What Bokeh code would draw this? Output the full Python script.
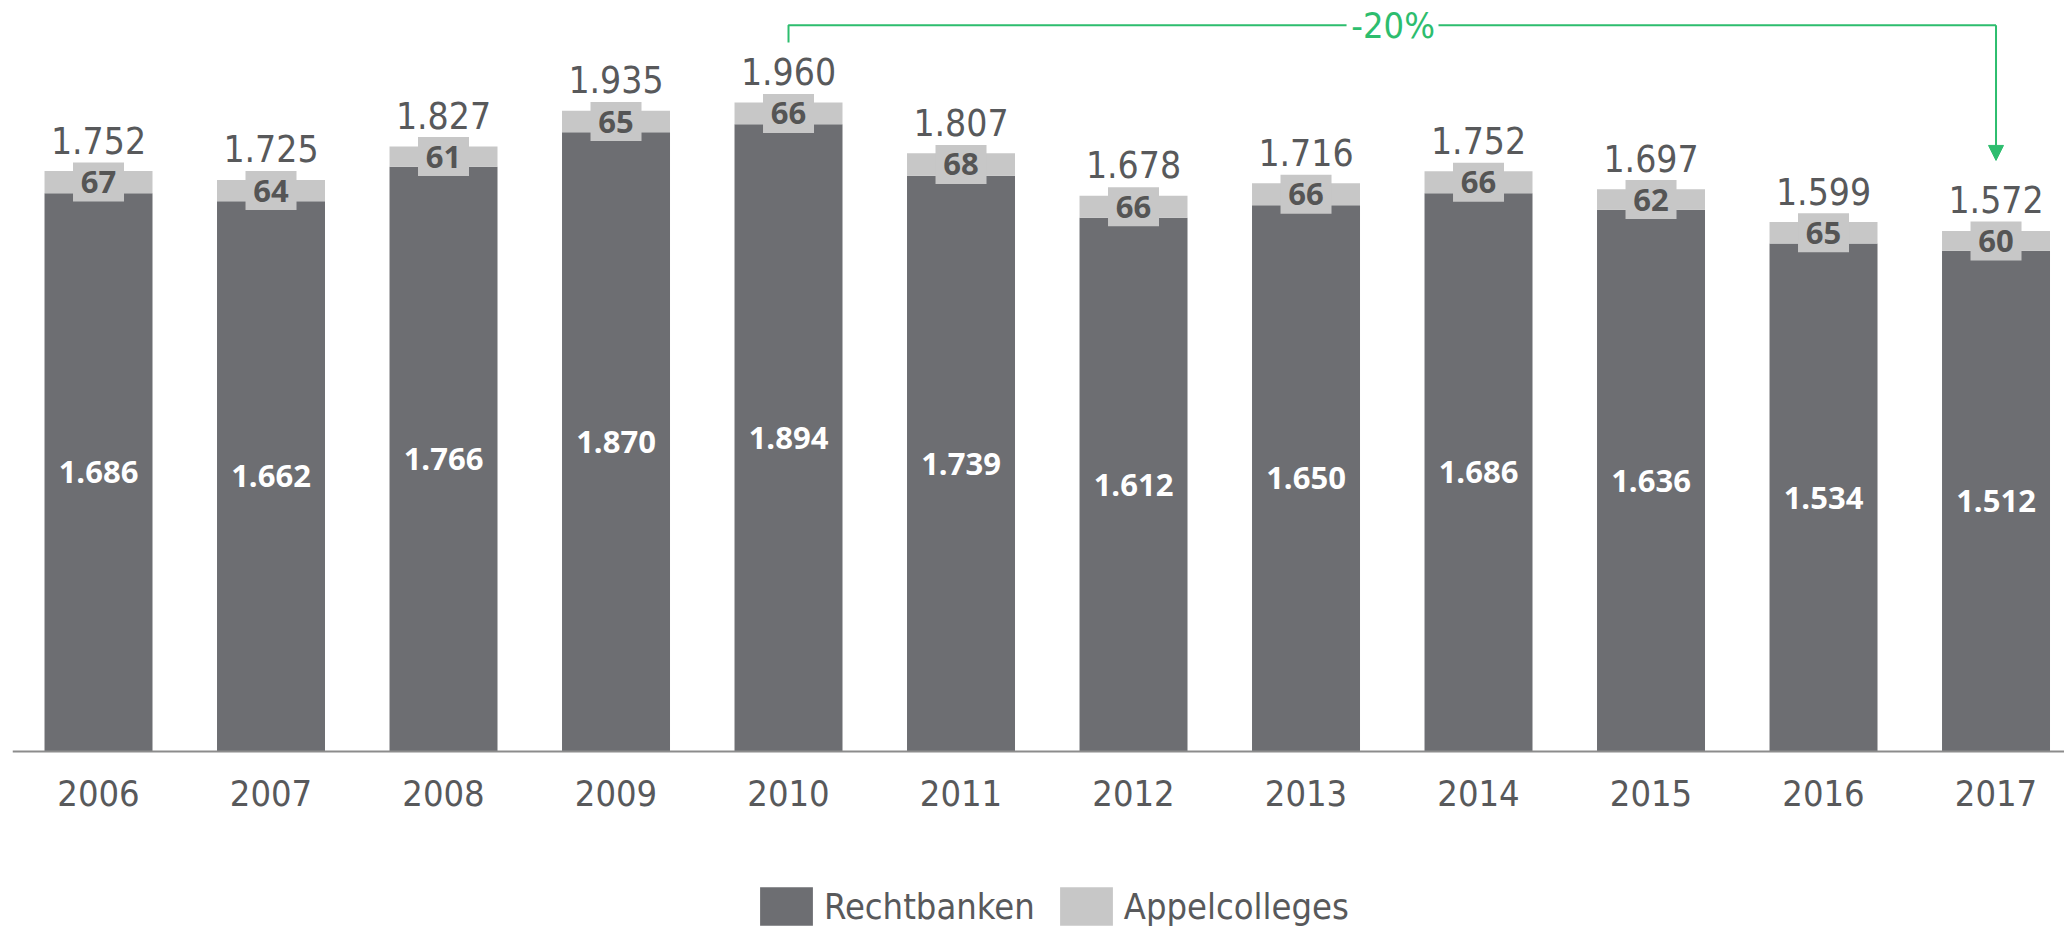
from bokeh.plotting import figure
from bokeh.models import (FixedTicker, Legend, LegendItem, Arrow, NormalHead,
                          ColumnDataSource, Range1d, LinearAxis)
from bokeh.core.properties import value
from bokeh.embed import file_html
from bokeh.resources import INLINE

# ---- data ----
years = ["2006", "2007", "2008", "2009", "2010", "2011",
         "2012", "2013", "2014", "2015", "2016", "2017"]
rechtbanken = [1686, 1662, 1766, 1870, 1894, 1739, 1612, 1650, 1686, 1636, 1534, 1512]
appelcolleges = [67, 64, 61, 65, 66, 68, 66, 66, 66, 62, 65, 60]
totals = [1752, 1725, 1827, 1935, 1960, 1807, 1678, 1716, 1752, 1697, 1599, 1572]
series_names = ["Rechtbanken", "Appelcolleges"]
change_label = "-20%"
change_from = "2010"
change_to = "2017"

DARK = "#6d6e72"
LIGHT = "#c7c7c7"
TXT = "#58595b"
GREEN = "#2dbd6e"
NARROW = "'Liberation Sans Narrow', 'DejaVu Sans Condensed', sans-serif"


def fmt(v):
    return f"{v:,}".replace(",", ".")


xs = list(range(len(years)))
src = ColumnDataSource(dict(
    x=xs,
    rb=rechtbanken,
    ap=appelcolleges,
    rb_mid=[v / 2 for v in rechtbanken],
    ap_mid=[r + a / 2 for r, a in zip(rechtbanken, appelcolleges)],
    top=[r + a for r, a in zip(rechtbanken, appelcolleges)],
    rb_lbl=[fmt(v) for v in rechtbanken],
    ap_lbl=[str(v) for v in appelcolleges],
    tot_lbl=[fmt(v) for v in totals],
))

p = figure(width=2064, height=927,
           x_range=Range1d(-0.4986, 11.397), y_range=Range1d(-531.6, 2268),
           output_backend="svg", toolbar_location=None,
           x_axis_location=None, y_axis_location=None,
           min_border_left=12, min_border_right=0, min_border_top=0,
           min_border_bottom=0, outline_line_color=None,
           background_fill_color="white", border_fill_color="white")
p.grid.visible = False

rs = p.vbar_stack(["rb", "ap"], x="x", width=0.626, color=[DARK, LIGHT],
                  line_width=0, source=src)

# label boxes for appelcolleges
p.rect(x="x", y="ap_mid", width=51, height=39, width_units="screen",
       height_units="screen", fill_color=LIGHT, line_color=None, source=src)
p.text(x="x", y="ap_mid", text="ap_lbl", text_align="center",
       text_baseline="middle", text_font=value("Open Sans"),
       text_font_style="bold", text_font_size="31px", text_color="#555555",
       source=src)

# rechtbanken labels
p.text(x="x", y="rb_mid", text="rb_lbl", text_align="center",
       text_baseline="middle", text_font=value("Open Sans"),
       text_font_style="bold", text_font_size="31px", text_color="white",
       source=src)

# totals
p.text(x="x", y="top", text="tot_lbl", text_align="center",
       text_baseline="middle", y_offset=-31, text_font=value(NARROW),
       text_font_size="37px", text_color=TXT, source=src)

# change bracket
i0 = years.index(change_from)
i1 = years.index(change_to)
bracket_y = 2193
p.line(x=[i0, i0, 7.235], y=[2141, bracket_y, bracket_y], line_color=GREEN,
       line_width=2)
p.line(x=[7.768, i1], y=[bracket_y, bracket_y], line_color=GREEN, line_width=2)
p.add_layout(Arrow(end=NormalHead(size=15, fill_color=GREEN, line_color=GREEN),
                   x_start=i1, y_start=bracket_y, x_end=i1, y_end=1785,
                   line_color=GREEN, line_width=2))
p.text(x=[7.505], y=[bracket_y], text=[change_label], text_align="center",
       text_baseline="middle", text_font=value(NARROW), text_font_size="36px",
       text_color=GREEN)

# x axis, drawn at value 0 inside the frame
ax = LinearAxis(fixed_location=0)
ax.ticker = FixedTicker(ticks=xs)
ax.major_label_overrides = {i: y for i, y in zip(xs, years)}
ax.major_tick_line_color = None
ax.minor_tick_line_color = None
ax.major_tick_out = 0
ax.major_tick_in = 0
ax.axis_line_color = "#8c8c8c"
ax.axis_line_width = 2
ax.major_label_standoff = 29
ax.major_label_text_font = NARROW
ax.major_label_text_font_size = "36px"
ax.major_label_text_color = TXT
p.add_layout(ax, "below")

legend = Legend(items=[LegendItem(label=series_names[0], renderers=[rs[0]]),
                       LegendItem(label=series_names[1], renderers=[rs[1]])],
                location=(741, -3), orientation="horizontal",
                glyph_width=66, glyph_height=48, label_height=48,
                label_standoff=5, spacing=18, padding=0, margin=0,
                border_line_color=None, background_fill_alpha=0,
                label_text_font=NARROW, label_text_font_size="36px",
                label_text_color=TXT, label_text_baseline="middle")
p.add_layout(legend, "center")

open("out.html", "w").write(file_html(p, INLINE))
